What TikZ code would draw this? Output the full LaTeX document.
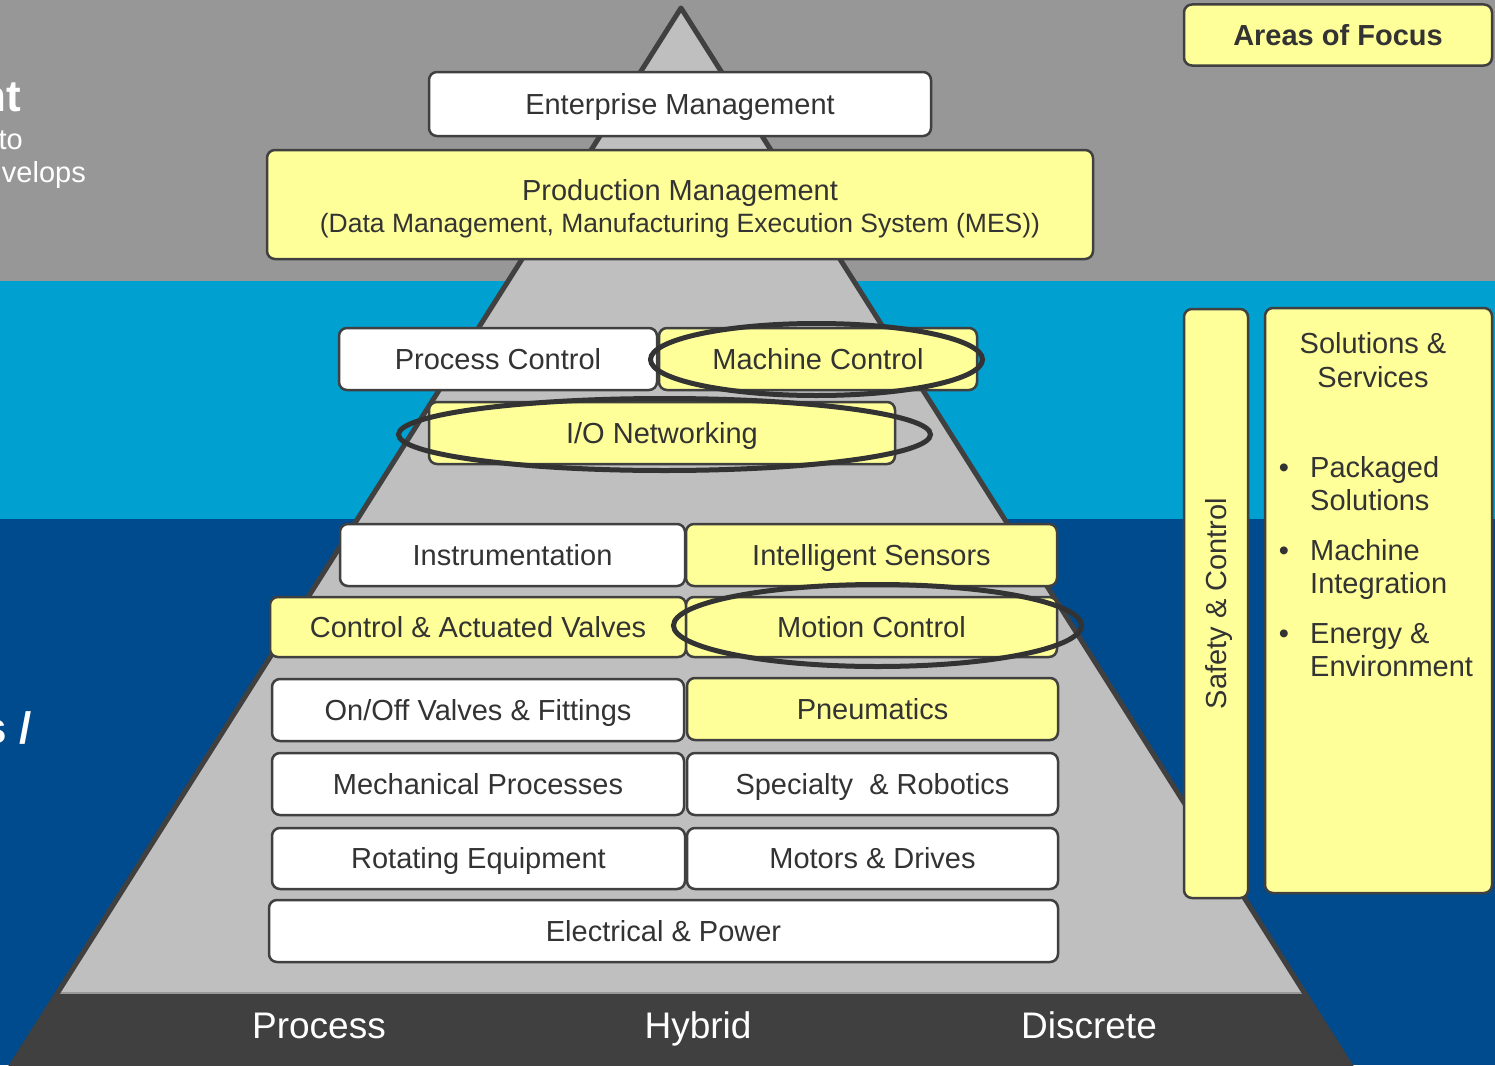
\documentclass[tikz,border=0pt]{standalone}
\usepackage{fontspec}
\setmainfont{Liberation Sans}
\usetikzlibrary{shapes.geometric}
\definecolor{bggray}{RGB}{150,151,150}
\definecolor{ltblue}{RGB}{0,160,208}
\definecolor{dkblue}{RGB}{0,75,141}
\definecolor{pyr}{RGB}{191,191,191}
\definecolor{dk}{RGB}{64,64,64}
\definecolor{yel}{RGB}{255,255,153}
\definecolor{txt}{RGB}{51,51,51}
\newcommand\boxfont{\fontsize{29}{33.5}\selectfont}
\newcommand\smallboxfont{\fontsize{26.5}{32}\selectfont}
\newcommand\bandfont{\fontsize{37}{44}\selectfont}
\newcommand\bigbold{\fontsize{44}{50}\selectfont\bfseries}
\begin{document}
\begin{tikzpicture}[x=1pt,y=-1pt,
  sz/.style 2 args={minimum width=#1pt, minimum height=#2pt},
  linebox/.style={text height=26.2pt, text depth=6.1pt},
  basebox/.style={draw=dk, line width=2.5pt, rounded corners=8pt, inner sep=0pt, font=\boxfont, text=txt, linebox},
  wbox/.style={basebox, fill=white},
  ybox/.style={basebox, fill=yel},
  ring/.style={ellipse, draw=dk!80!black, line width=5pt, inner sep=0pt},
  band/.style={text=white, font=\bandfont, inner sep=0pt, text height=33.5pt, text depth=7.8pt},
  plain/.style={text=txt, font=\boxfont, inner sep=0pt},
  lefttxt/.style={text=white, inner sep=0pt, anchor=east}]
\clip (0,0) rectangle (1495,1065);
% background bands
\fill[bggray] (0,0) rectangle (1495,281);
\fill[ltblue] (0,281) rectangle (1495,519);
\fill[dkblue] (0,519) rectangle (1495,1065);
% cropped left texts
\node[lefttxt, font=\bigbold] (l1) at (21,97) {nt};
\node[lefttxt, font=\boxfont] (l2) at (23,140) {to};
\node[lefttxt, font=\boxfont] (l3) at (86,175) {velops};
\node[lefttxt, font=\bigbold] (l4) at (32,728) {s /};
% pyramid
\fill[pyr] (681,8) -- (1359.6,1080) -- (2.4,1080) -- cycle;
\fill[dk] (57.5,993) -- (1304.5,993) -- (1359.6,1080) -- (2.4,1080) -- cycle;
\draw[gray!80, line width=1.5pt] (57.5,993) -- (1304.5,993);
\draw[dk, line width=5pt, line join=round] (2.4,1080) -- (681,8) -- (1359.6,1080);
% bottom labels
\node[band] (proc) at (319,1026) {Process};
\node[band] (hyb) at (698,1026) {Hybrid};
\node[band] (disc) at (1089,1026) {Discrete};
% boxes
\node[wbox, sz={502}{64}] (ent) at (680,104) {Enterprise Management};
\node[ybox, sz={826}{109}] (prod) at (680,204.5) {};
\node[plain, anchor=base] (prod1) at (680,200) {Production Management};
\node[plain, anchor=base, font=\smallboxfont] (prod2) at (680,232) {(Data Management, Manufacturing Execution System (MES))};
\node[wbox, sz={318}{62}] (pc) at (498,359) {Process Control};
\node[ybox, sz={318}{62}] (mc) at (818,359) {Machine Control};
\node[ybox, sz={466}{62}] (io) at (662,433) {I/O Networking};
\node[wbox, sz={345}{62}] (ins) at (512.5,555) {Instrumentation};
\node[ybox, sz={371}{62}] (is) at (871.5,555) {Intelligent Sensors};
\node[ybox, sz={416}{60}] (cav) at (478,627) {Control \& Actuated Valves};
\node[ybox, sz={371}{60}] (mo) at (871.5,627) {Motion Control};
\node[wbox, sz={412}{62}] (onoff) at (478,710) {On/Off Valves \& Fittings};
\node[ybox, sz={371}{62}] (pn) at (872.5,709) {Pneumatics};
\node[wbox, sz={412}{62}] (mp) at (478,784) {Mechanical Processes};
\node[wbox, sz={371}{62}] (sr) at (872.5,784) {Specialty\ \ \& Robotics};
\node[wbox, sz={413}{61}] (re) at (478.5,858.5) {Rotating Equipment};
\node[wbox, sz={371}{61}] (md) at (872.5,858.5) {Motors \& Drives};
\node[wbox, sz={789}{62}] (ep) at (663.5,931) {Electrical \& Power};
% highlight rings
\node[ring, sz={332}{72}] (r1) at (816.5,359.5) {};
\node[ring, sz={532}{72}] (r2) at (664.5,434.5) {};
\node[ring, sz={408}{82}] (r3) at (877.5,625.5) {};
% right side
\node[ybox, sz={308}{61}, font=\boxfont\bfseries] (aof) at (1338,35) {Areas of Focus};
\node[ybox, sz={64}{589}] (sc) at (1216,603.5) {};
\node[plain, linebox, rotate=90] (sct) at (1216,603.5) {Safety \& Control};
\node[ybox, sz={227}{585}] (ss) at (1378.5,600.5) {};
\node[plain, align=center, anchor=base] (sst) at (1373,387) {Solutions \&\\Services};
\node[plain, anchor=base] (b1) at (1284,477) {•};
\node[plain, anchor=base] (b2) at (1284,560) {•};
\node[plain, anchor=base] (b3) at (1284,643) {•};
\node[plain, align=left, anchor=base west] (i1) at (1310,510.5) {Packaged\\Solutions};
\node[plain, align=left, anchor=base west] (i2) at (1310,593.5) {Machine\\Integration};
\node[plain, align=left, anchor=base west] (i3) at (1310,676.5) {Energy \&\\Environment};
\end{tikzpicture}
\end{document}
